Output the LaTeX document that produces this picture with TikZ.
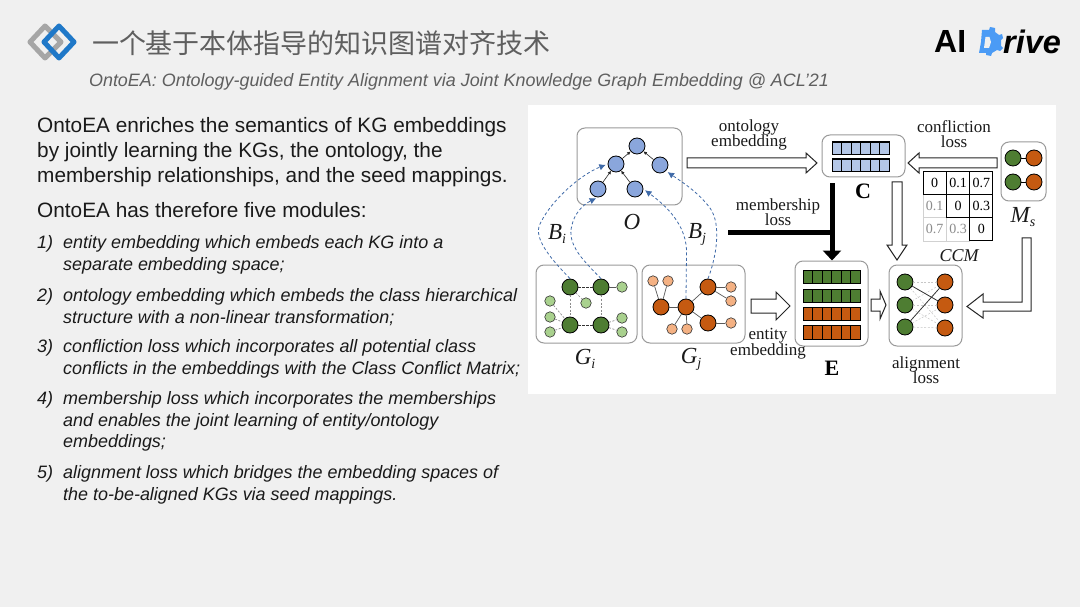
\documentclass[tikz,border=0pt]{standalone}
\usepackage{fontspec}
\setmainfont{Liberation Sans}
\newfontfamily\cjkf{Noto Sans CJK SC}
\newfontfamily\dgf{Liberation Serif}
\usetikzlibrary{arrows.meta}
\definecolor{bgc}{HTML}{F0F0F0}
\definecolor{txtc}{HTML}{1A1A1A}
\definecolor{ttlc}{HTML}{5F5F5F}
\definecolor{ondblue}{HTML}{8AA6DC}
\definecolor{cellblue}{HTML}{B4C7E7}
\definecolor{dgreen}{HTML}{4E7D32}
\definecolor{lgreen}{HTML}{A9D18E}
\definecolor{dorange}{HTML}{C55A11}
\definecolor{lorange}{HTML}{F4B183}
\definecolor{dashblue}{HTML}{3F6AA8}
\definecolor{boxgray}{HTML}{9A9A9A}
\definecolor{logoblue}{HTML}{1F78C8}
\definecolor{gearblue}{HTML}{4B9BF5}
\tikzset{
  panel/.style={draw=boxgray,line width=1pt,rounded corners=8pt,fill=white},
  bigdot/.style={circle,draw=black,line width=.8pt,minimum size=16pt,inner sep=0pt},
  smalldot/.style={circle,draw=black!80,line width=.6pt,minimum size=10.5pt,inner sep=0pt},
  ontod/.style={bigdot,fill=ondblue},
  gd/.style={bigdot,fill=dgreen},
  od/.style={bigdot,fill=dorange},
  gl/.style={smalldot,fill=lgreen},
  ol/.style={smalldot,fill=lorange},
  dlab/.style={font=\dgf\fontsize{17}{17}\selectfont,inner sep=0pt,text=txtc},
  mathlab/.style={font=\dgf\itshape\fontsize{23}{23}\selectfont,inner sep=0pt,text=txtc},
  boldlab/.style={font=\dgf\bfseries\fontsize{22}{22}\selectfont,inner sep=0pt,text=black},
  hollow/.style={draw=black!85,line width=1pt,fill=white,line join=miter},
  blueline/.style={draw=dashblue,line width=.8pt,dash pattern=on 3pt off 2.4pt,-{Latex[length=6.5pt,width=6.5pt]},shorten >=2pt},
  ontoedge/.style={draw=black!85,line width=.6pt,-{Latex[length=3.5pt,width=3.5pt]}},
  solidg/.style={draw=black!65,line width=.7pt},
  dashk/.style={draw=black!80,line width=.7pt,dash pattern=on 2.4pt off 1.6pt},
  dashg/.style={draw=black!45,line width=.7pt,dash pattern=on 2pt off 1.6pt},
  dashl/.style={draw=black!22,line width=.5pt,dash pattern=on 2pt off 1.6pt},
  headtxt/.style={anchor=north west,align=left,inner sep=0pt,text=txtc,font=\fontsize{20.8}{25}\selectfont},
  subhead/.style={anchor=north west,inner sep=0pt,text=txtc,font=\fontsize{20.8}{25}\selectfont},
  itemtxt/.style={anchor=north west,align=left,inner sep=0pt,text=txtc,font=\itshape\fontsize{17.95}{21.6}\selectfont},
  mk/.style={draw=black,line width=1pt,minimum width=23.3pt,minimum height=23.3pt,inner sep=0pt,font=\dgf\fontsize{14}{14}\selectfont,text=black,anchor=center},
  ml/.style={draw=black!18,line width=.8pt,minimum width=23.3pt,minimum height=23.3pt,inner sep=0pt,font=\dgf\fontsize{14}{14}\selectfont,text=black!45,anchor=center},
}
\newcommand{\cellrow}[4]{% x0,y0,y1,colour
  \foreach \k in {0,...,5} {\fill[#4] ({#1+\k*9.5},#2) rectangle ({#1+\k*9.5+9.5},#3);
    \draw[black,line width=.6pt] ({#1+\k*9.5},#2) rectangle ({#1+\k*9.5+9.5},#3);}
  \draw[black,line width=1pt] (#1,#2) rectangle ({#1+57},#3);}
\begin{document}
\begin{tikzpicture}[x=1pt,y=-1pt]
\useasboundingbox (0,0) rectangle (1080,607);
\fill[bgc] (0,0) rectangle (1080,607);
% logo
\draw[black!35,line width=5pt,line join=round] (45,26) -- (61,42) -- (45,58) -- (30,42) -- cycle;
\draw[logoblue,line width=5pt,line join=round] (59,26) -- (74,42) -- (59,58) -- (44,42) -- cycle;
\node[anchor=center,inner sep=0pt,text=ttlc,font=\cjkf\fontsize{27}{27}\selectfont] (title) at (321.5,43) {一个基于本体指导的知识图谱对齐技术};
\node[anchor=center,inner sep=0pt,text=ttlc,font=\itshape\fontsize{17.93}{17.93}\selectfont] (subtitle) at (459,81.5) {OntoEA: Ontology-guided Entity Alignment via Joint Knowledge Graph Embedding @ ACL'21};
% AI Drive
\node[anchor=base west,inner sep=0pt,text=black,font=\bfseries\fontsize{32}{32}\selectfont] (ai) at (934,53) {AI};
\node[anchor=base west,inner sep=0pt,text=black,font=\bfseries\itshape\fontsize{32.5}{32.5}\selectfont] (rive) at (1003,54) {rive};
\fill[gearblue] (982,30) -- (989,30) -- (990,27) -- (995,28) -- (995,32) -- (999,35) -- (1002,34) -- (1003,38) -- (1001,40) -- (1001,46) -- (1003,48) -- (1000,51) -- (997,50) -- (992,53) -- (991,56) -- (986,55) -- (986,53) -- (979,53) -- (981,42) -- cycle;
\fill[bgc] (985.5,37) -- (989.5,37) -- (991,42) -- (989,48) -- (984,48) -- cycle;
% left text
\node[headtxt] (p1) at (37,117) {OntoEA enriches the semantics of KG embeddings\\by jointly learning the KGs, the ontology, the\\membership relationships, and the seed mappings.};
\node[subhead] (p2) at (37,202) {OntoEA has therefore five modules:};
\node[itemtxt] (n1) at (37,235.5) {1)};
\node[itemtxt] (t1) at (63,235.5) {entity embedding which embeds each KG into a\\separate embedding space;};
\node[itemtxt] (n2) at (37,288.5) {2)};
\node[itemtxt] (t2) at (63,288.5) {ontology embedding which embeds the class hierarchical\\structure with a non-linear transformation;};
\node[itemtxt] (n3) at (37,339.5) {3)};
\node[itemtxt] (t3) at (63,339.5) {confliction loss which incorporates all potential class\\conflicts in the embeddings with the Class Conflict Matrix;};
\node[itemtxt] (n4) at (37,391.5) {4)};
\node[itemtxt] (t4) at (63,391.5) {membership loss which incorporates the memberships\\and enables the joint learning of entity/ontology\\embeddings;};
\node[itemtxt] (n5) at (37,465.5) {5)};
\node[itemtxt] (t5) at (63,465.5) {alignment loss which bridges the embedding spaces of\\the to-be-aligned KGs via seed mappings.};
% diagram panel
\fill[white] (528,105) rectangle (1056,394);
% boxes
\node[panel,minimum width=105pt,minimum height=77pt,inner sep=0pt] (obox) at (629.5,166.5) {};
\node[panel,minimum width=101pt,minimum height=78pt,inner sep=0pt] (gibox) at (586.5,304) {};
\node[panel,minimum width=103pt,minimum height=78pt,inner sep=0pt] (gjbox) at (693.5,304) {};
\node[panel,minimum width=83pt,minimum height=42pt,inner sep=0pt] (cbox) at (863.5,156) {};
\node[panel,minimum width=73pt,minimum height=85pt,inner sep=0pt] (ebox) at (831.5,303.5) {};
\node[panel,minimum width=73pt,minimum height=81pt,inner sep=0pt] (abox) at (925.5,305.5) {};
\node[panel,minimum width=45pt,minimum height=59pt,inner sep=0pt] (mbox) at (1023.5,171.5) {};
% O
\node[ontod] (o1) at (637,146) {};
\node[ontod] (o2) at (616,164) {};
\node[ontod] (o3) at (660,165) {};
\node[ontod] (o4) at (598,189) {};
\node[ontod] (o5) at (635,189) {};
\draw[ontoedge] (o2) -- (o1);
\draw[ontoedge] (o3) -- (o1);
\draw[ontoedge] (o4) -- (o2);
\draw[ontoedge] (o5) -- (o2);
% Gi
\node[gd] (a1) at (570,287) {};
\node[gd] (a2) at (601,287) {};
\node[gd] (a3) at (570,325) {};
\node[gd] (a4) at (601,325) {};
\node[gl] (la) at (622,287) {};
\node[gl] (lb) at (586,303) {};
\node[gl] (lc) at (550,301) {};
\node[gl] (ld) at (550,317) {};
\node[gl] (le) at (550,332) {};
\node[gl] (lf) at (622,318) {};
\node[gl] (lg) at (622,332) {};
\draw[dashk] (a1) -- (a2);
\draw[dashk] (a3) -- (a4);
\draw[dashg] (a1) -- (a3);
\draw[dashg] (a2) -- (a4);
\draw[solidg] (a2) -- (la);
\draw[dashg] (a1) -- (lb);
\draw[dashg] (lc) -- (a3);
\draw[dashg] (ld) -- (a3);
\draw[dashg] (le) -- (a3);
\draw[dashg] (a4) -- (lf);
\draw[dashg] (a4) -- (lg);
% Gj
\node[od] (b1) at (661,307) {};
\node[od] (b2) at (686,307) {};
\node[od] (b3) at (708,287) {};
\node[od] (b4) at (708,323) {};
\node[ol] (ma) at (653,281) {};
\node[ol] (mb) at (668,281) {};
\node[ol] (mc) at (731,287) {};
\node[ol] (md) at (731,301) {};
\node[ol] (me) at (731,323) {};
\node[ol] (mf) at (672,329) {};
\node[ol] (mg) at (687,329) {};
\foreach \p/\q in {b1/ma,b1/mb,b1/b2,b2/b3,b2/b4,b3/mc,b3/md,b4/me,b2/mf,b2/mg} \draw[solidg] (\p) -- (\q);
% blue dashed mappings
\draw[blueline] (a1.north) .. controls (548,256) and (532,236) .. (541,222) .. controls (552,200) and (580,175) .. (o2.west);
\draw[blueline] (a2.north) .. controls (585,262) and (566,245) .. (572,225) .. controls (574,215) and (582,205) .. (o4.south);
\draw[blueline] (b2.north) -- (686.5,255) .. controls (688,225) and (665,205) .. (o5.east);
\draw[blueline] (b3.north) .. controls (716,258) and (722,225) .. (710,208) .. controls (698,192) and (682,182) .. (o3.south east);
% C, E rows
\cellrow{832}{142}{154.5}{cellblue}
\cellrow{832}{159}{171.5}{cellblue}
\cellrow{803}{270}{283}{dgreen}
\cellrow{803}{289}{302.5}{dgreen}
\cellrow{803}{307}{320}{dorange}
\cellrow{803}{325}{339}{dorange}
% matrix
\node[ml] (m21) at (934.7,206) {0.1};
\node[ml] (m31) at (934.7,229.3) {0.7};
\node[ml] (m32) at (958,229.3) {0.3};
\node[mk] (m11) at (934.7,182.7) {0};
\node[mk] (m12) at (958,182.7) {0.1};
\node[mk] (m13) at (981.3,182.7) {0.7};
\node[mk] (m22) at (958,206) {0};
\node[mk] (m23) at (981.3,206) {0.3};
\node[mk] (m33) at (981.3,229.3) {0};
% Ms
\node[gd] (s1) at (1013,158) {};
\node[od] (s2) at (1034,158) {};
\node[gd] (s3) at (1013,182) {};
\node[od] (s4) at (1034,182) {};
\draw[black,line width=.7pt] (s1) -- (s2);
\draw[black,line width=.7pt] (s3) -- (s4);
% alignment
\node[gd] (g1) at (905,282) {};
\node[gd] (g2) at (905,305) {};
\node[gd] (g3) at (905,327) {};
\node[od] (r1) at (945,282) {};
\node[od] (r2) at (945,305) {};
\node[od] (r3) at (945,328) {};
\foreach \p/\q in {g1/r1,g1/r3,g2/r1,g2/r2,g2/r3,g3/r2,g3/r3} \draw[dashl] (\p) -- (\q);
\draw[black!80,line width=.8pt] (g1) -- (r2);
\draw[black!80,line width=.8pt] (g3) -- (r1);
% hollow block arrows
\draw[hollow] (687,158) -- (806,158) -- (806,153) -- (817,163) -- (806,173) -- (806,168) -- (687,168) -- cycle;
\draw[hollow] (997,158) -- (919,158) -- (919,153) -- (908,163) -- (919,173) -- (919,168) -- (997,168) -- cycle;
\draw[hollow] (892,182) -- (902,182) -- (902,245) -- (907,245) -- (897,260) -- (887,245) -- (892,245) -- cycle;
\draw[hollow] (1022,238) -- (1031,238) -- (1031,311) -- (983,311) -- (983,318) -- (967,306.5) -- (983,294) -- (983,302) -- (1022,302) -- cycle;
\draw[hollow] (751,299) -- (776,299) -- (776,292) -- (790,306) -- (776,320) -- (776,313) -- (751,313) -- cycle;
\draw[hollow] (871,299) -- (880,299) -- (880,291) -- (886,305) -- (880,319) -- (880,311) -- (871,311) -- cycle;
% membership connector
\coordinate (mstart) at (728,233);
\coordinate (mjoin) at (832,233);
\draw[black,line width=5pt] (mstart) -- (mjoin);
\draw[black,line width=5pt,-{Triangle[length=10pt,width=18pt]}] (cbox.south -| mjoin) ++(0,6) -- (ebox.north -| mjoin);
% labels
\node[dlab,align=center] (lab1) at (749,135) {ontology\\[-1.5pt]embedding};
\node[dlab,align=center] (lab2) at (954,134) {confliction\\[-1.5pt]loss};
\node[dlab,align=center] (lab3) at (778,212) {membership\\[-1.5pt]loss};
\node[dlab,align=center] (lab4) at (768,343.5) {entity\\[-1.5pt]embedding};
\node[dlab,align=center] (lab5) at (926,370) {alignment\\[-1.5pt]loss};
\node[mathlab] (lo) at (632,222) {O};
\node[mathlab] (lbi) at (557,234) {B\raisebox{-4pt}{\fontsize{14}{14}\selectfont i}};
\node[mathlab] (lbj) at (697,234) {B\raisebox{-4pt}{\fontsize{14}{14}\selectfont j}};
\node[mathlab] (lgi) at (585,359) {G\raisebox{-4pt}{\fontsize{14}{14}\selectfont i}};
\node[mathlab] (lgj) at (691,359) {G\raisebox{-4pt}{\fontsize{14}{14}\selectfont j}};
\node[mathlab] (lms) at (1023,217) {M\raisebox{-4pt}{\fontsize{14}{14}\selectfont s}};
\node[boldlab] (lc2) at (863,191) {C};
\node[boldlab] (le2) at (832,368) {E};
\node[dlab,font=\dgf\itshape\fontsize{18}{18}\selectfont] (lccm) at (959,256) {CCM};
\end{tikzpicture}
\end{document}
